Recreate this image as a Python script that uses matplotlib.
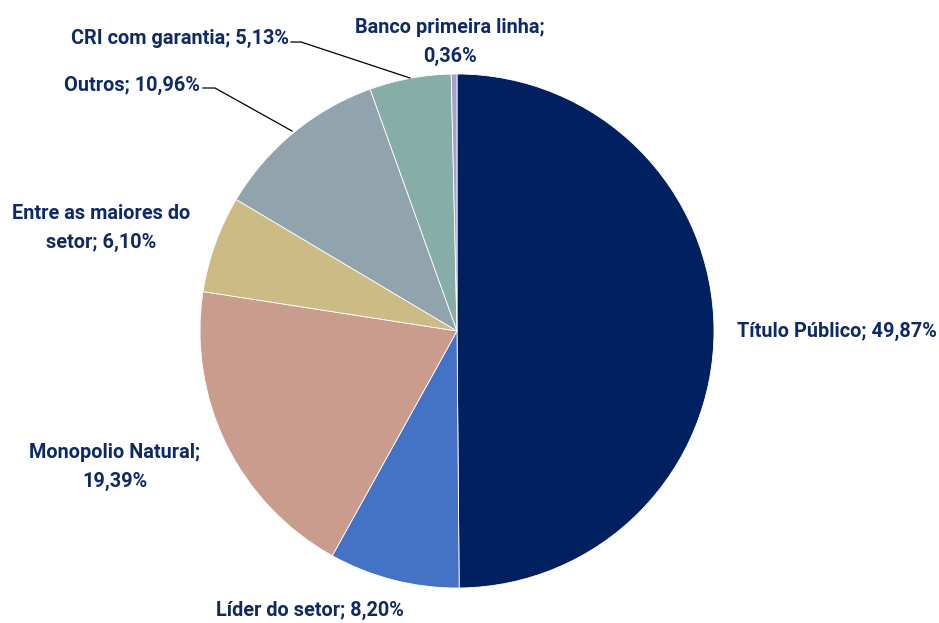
import matplotlib
matplotlib.use("Agg")
import matplotlib.pyplot as plt

categories = ["Título Público", "Líder do setor", "Monopolio Natural",
              "Entre as maiores do setor", "Outros", "CRI com garantia",
              "Banco primeira linha"]
values = [49.87, 8.20, 19.39, 6.10, 10.96, 5.13, 0.36]
labels = ["Título Público; 49,87%", "Líder do setor; 8,20%",
          "Monopolio Natural;\n19,39%", "Entre as maiores do\nsetor; 6,10%",
          "Outros; 10,96%", "CRI com garantia; 5,13%",
          "Banco primeira linha;\n0,36%"]
colors = ["#002060", "#4472C4", "#C99C8D", "#CDBB86", "#91A4AE", "#86ADA6", "#A9A1C8"]

W, H = 939, 623
fig = plt.figure(figsize=(W / 100, H / 100), dpi=100)
cx, cy, R = 457, 331, 257
ax = fig.add_axes([(cx - R) / W, (H - cy - R) / H, 2 * R / W, 2 * R / H])
ax.pie(values, colors=colors, startangle=90, counterclock=False,
       wedgeprops=dict(edgecolor="white", linewidth=0.6))
ax.set_xlim(-1, 1)
ax.set_ylim(-1, 1)
ax.set_aspect("equal")
ax.axis("off")

def d(px, py):
    return ((px - cx) / R, (cy - py) / R)

tc = "#0E2A66"
fs = 14.3
font = dict(family=["Roboto", "DejaVu Sans"], fontweight="bold", color=tc, fontsize=fs)

pos = [
    (d(737, 331), "left", "center"),
    (d(310, 610), "center", "center"),
    (d(115, 467), "center", "center"),
    (d(101, 228), "center", "center"),
    (d(200, 85), "right", "center"),
    (d(289, 38), "right", "center"),
    (d(450, 42), "center", "center"),
]
for lab, (xy, ha, va) in zip(labels, pos):
    ax.text(xy[0], xy[1], lab, ha=ha, va=va, linespacing=1.65, clip_on=False, **font)

# leader lines
for pts in ([(203, 88), (215, 88), (292, 131)], [(291, 42), (301, 42), (410, 78)]):
    xs = [d(*p)[0] for p in pts]
    ys = [d(*p)[1] for p in pts]
    ax.plot(xs, ys, color="black", linewidth=0.9, clip_on=False)

fig.savefig("out.png", dpi=100)
